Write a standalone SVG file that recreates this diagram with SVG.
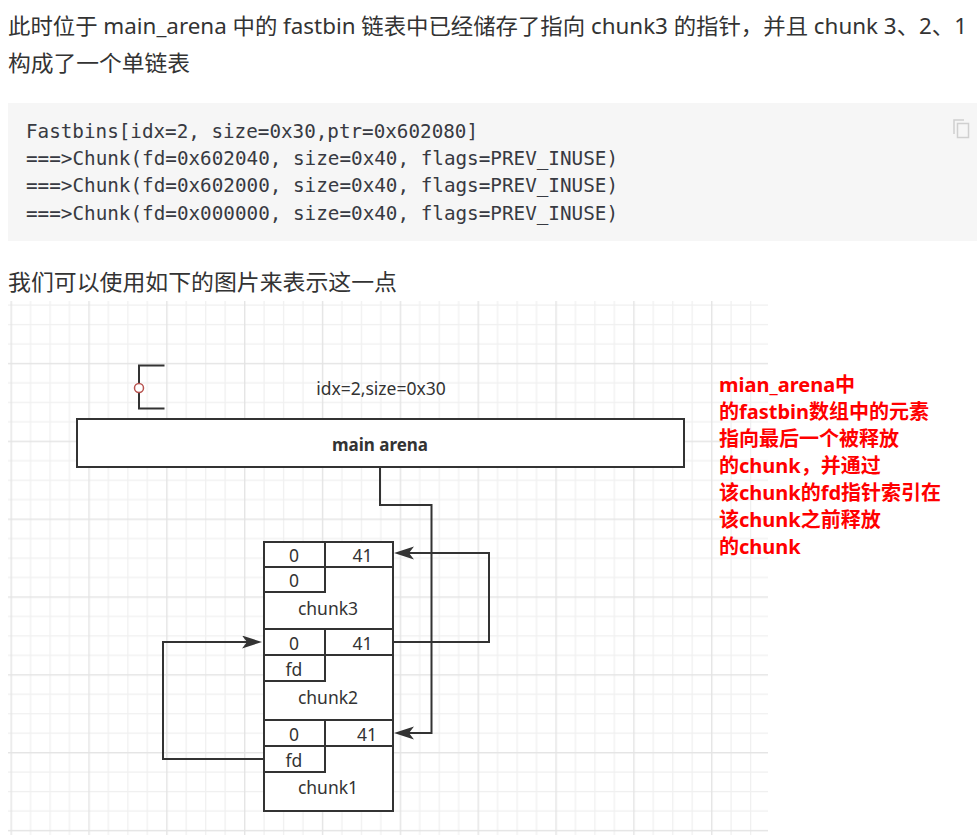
<svg xmlns="http://www.w3.org/2000/svg" width="977" height="835" viewBox="0 0 977 835">
<style>
.para{font-family:"Noto Sans","Noto Sans CJK SC",sans-serif;font-size:22px;fill:#333333}
.code{font-family:"DejaVu Sans Mono","Liberation Mono",monospace;font-size:19px;fill:#383a42}
.t{font-family:"Noto Sans","Noto Sans CJK SC",sans-serif;font-size:17.5px;fill:#333333;text-anchor:middle}
.tb{font-family:"Noto Sans","Noto Sans CJK SC",sans-serif;font-size:17px;font-weight:bold;fill:#333333;text-anchor:middle}
.red{font-family:"Noto Sans","Noto Sans CJK SC",sans-serif;font-size:20px;font-weight:bold;fill:#ff0000}
.box{fill:#ffffff;stroke:#333333;stroke-width:2}
.ln{fill:none;stroke:#333333;stroke-width:2}
.conn{fill:none;stroke:#333333;stroke-width:2}
</style>
<defs>
<pattern id="grid" patternUnits="userSpaceOnUse" x="10.5" y="285" width="77.84" height="77.84">
<rect x="0" y="0" width="77.84" height="77.84" fill="#ffffff"/>
<rect x="19.46" y="0" width="1.2" height="77.84" fill="#f0f0f0"/>
<rect x="38.92" y="0" width="1.2" height="77.84" fill="#f0f0f0"/>
<rect x="58.38" y="0" width="1.2" height="77.84" fill="#f0f0f0"/>
<rect x="0" y="19.46" width="77.84" height="1.2" fill="#f0f0f0"/>
<rect x="0" y="38.92" width="77.84" height="1.2" fill="#f0f0f0"/>
<rect x="0" y="58.38" width="77.84" height="1.2" fill="#f0f0f0"/>
<rect x="0" y="0" width="1.4" height="77.84" fill="#e4e4e4"/>
<rect x="0" y="0" width="77.84" height="1.4" fill="#e4e4e4"/>
</pattern>
<marker id="arr" markerUnits="userSpaceOnUse" markerWidth="22" markerHeight="14" refX="10" refY="6.5" orient="auto">
<path d="M0,0 L20,6.5 L0,13 L5,6.5 Z" fill="#333333"/>
</marker>
</defs>
<rect x="0" y="0" width="977" height="835" fill="#ffffff"/>

<!-- article text -->
<text class="para" x="8" y="33.5" textLength="959" lengthAdjust="spacingAndGlyphs">此时位于 main_arena 中的 fastbin 链表中已经储存了指向 chunk3 的指针，并且 chunk 3、2、1</text>
<text class="para" x="8" y="70.5" textLength="182" lengthAdjust="spacingAndGlyphs">构成了一个单链表</text>

<rect x="8" y="103" width="969" height="138" fill="#f6f6f6"/>
<text class="code" x="26" y="137.5" textLength="452" lengthAdjust="spacingAndGlyphs">Fastbins[idx=2, size=0x30,ptr=0x602080]</text>
<text class="code" x="26" y="164.5" textLength="592" lengthAdjust="spacingAndGlyphs">===&gt;Chunk(fd=0x602040, size=0x40, flags=PREV_INUSE)</text>
<text class="code" x="26" y="191.5" textLength="592" lengthAdjust="spacingAndGlyphs">===&gt;Chunk(fd=0x602000, size=0x40, flags=PREV_INUSE)</text>
<text class="code" x="26" y="219.5" textLength="592" lengthAdjust="spacingAndGlyphs">===&gt;Chunk(fd=0x000000, size=0x40, flags=PREV_INUSE)</text>
<g id="copy-icon" fill="none" stroke="#d0d0d0" stroke-width="1.5">
<path d="M954,134 V120 H964"/>
<rect x="957.5" y="123.5" width="11" height="14"/>
</g>

<text class="para" x="8" y="289.5" textLength="389" lengthAdjust="spacingAndGlyphs">我们可以使用如下的图片来表示这一点</text>

<!-- grid background -->
<rect x="8" y="301" width="760" height="534" fill="url(#grid)"/>

<g id="bracket">
<path class="ln" d="M164.5,365.5 H139 V408.5 H164.5"/>
<circle cx="139" cy="388" r="4.5" fill="#ffffff" stroke="#b85450" stroke-width="1.5"/>
</g>

<g id="label-idx">
<text class="t" x="381" y="395">idx=2,size=0x30</text>
</g>

<g id="main-arena">
<rect class="box" x="77" y="419" width="607" height="48"/>
<text class="tb" x="380" y="451">main arena</text>
</g>

<g id="chunk3">
<rect class="box" x="264" y="542" width="129" height="87"/>
<path class="ln" d="M264,567 H393 M325,542 V567 M325,567 V592 H264"/>
<text class="t" x="294" y="562">0</text>
<text class="t" x="362.5" y="562">41</text>
<text class="t" x="294" y="587">0</text>
<text class="t" x="328" y="615">chunk3</text>
</g>

<g id="chunk2">
<rect class="box" x="264" y="629" width="129" height="91"/>
<path class="ln" d="M264,655 H393 M325,629 V655 M325,655 V681 H264"/>
<text class="t" x="294" y="650">0</text>
<text class="t" x="362.5" y="650">41</text>
<text class="t" x="294" y="676">fd</text>
<text class="t" x="328" y="704">chunk2</text>
</g>

<g id="chunk1">
<rect class="box" x="264" y="720" width="129" height="91"/>
<path class="ln" d="M264,746 H393 M325,720 V746 M325,746 V772 H264"/>
<text class="t" x="294" y="741">0</text>
<text class="t" x="367" y="741">41</text>
<text class="t" x="294" y="767">fd</text>
<text class="t" x="328" y="794">chunk1</text>
</g>

<g id="connectors">
<path class="conn" d="M380,467 V505 H431.5 V733 H404" marker-end="url(#arr)"/>
<path class="conn" d="M393,642 H489 V553 H404" marker-end="url(#arr)"/>
<path class="conn" d="M264,759 H163 V642 H252" marker-end="url(#arr)"/>
</g>

<g id="note">
<text class="red" x="719" y="392">mian_arena中</text>
<text class="red" x="719" y="419">的fastbin数组中的元素</text>
<text class="red" x="719" y="446">指向最后一个被释放</text>
<text class="red" x="719" y="473">的chunk，并通过</text>
<text class="red" x="719" y="500">该chunk的fd指针索引在</text>
<text class="red" x="719" y="527">该chunk之前释放</text>
<text class="red" x="719" y="554">的chunk</text>
</g>
</svg>
